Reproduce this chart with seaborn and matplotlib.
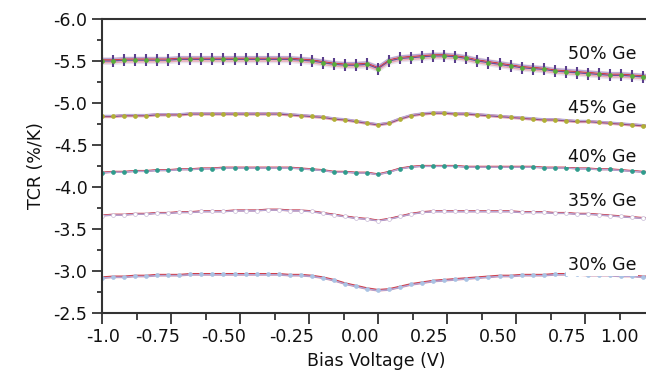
import matplotlib
matplotlib.use("Agg")
import matplotlib.pyplot as plt
import seaborn as sns
import numpy as np
from matplotlib.ticker import MultipleLocator

# bias voltage grid (V)
voltage = [-1.00, -0.96, -0.92, -0.88, -0.84, -0.80, -0.76, -0.72, -0.68, -0.64,
           -0.60, -0.56, -0.52, -0.48, -0.44, -0.40, -0.36, -0.32, -0.28, -0.24,
           -0.20, -0.16, -0.12, -0.08, -0.04, 0.00, 0.04, 0.08, 0.12, 0.16,
           0.20, 0.24, 0.28, 0.32, 0.36, 0.40, 0.44, 0.48, 0.52, 0.56,
           0.60, 0.64, 0.68, 0.72, 0.76, 0.80, 0.84, 0.88, 0.92, 0.96, 1.00]

# TCR (%/K) for each Ge content
tcr_50 = [-5.50, -5.50, -5.51, -5.51, -5.51, -5.51, -5.51, -5.52, -5.52, -5.52,
          -5.52, -5.52, -5.52, -5.52, -5.52, -5.52, -5.52, -5.52, -5.51, -5.50,
          -5.48, -5.46, -5.45, -5.45, -5.46, -5.41, -5.50, -5.53, -5.54, -5.55,
          -5.56, -5.56, -5.55, -5.53, -5.50, -5.48, -5.46, -5.44, -5.42, -5.41,
          -5.40, -5.38, -5.37, -5.36, -5.35, -5.34, -5.33, -5.33, -5.32, -5.31, -5.30]
tcr_45 = [-4.84, -4.84, -4.85, -4.85, -4.85, -4.86, -4.86, -4.86, -4.87, -4.87,
          -4.87, -4.87, -4.87, -4.87, -4.87, -4.87, -4.87, -4.86, -4.85, -4.84,
          -4.83, -4.81, -4.80, -4.78, -4.76, -4.74, -4.76, -4.81, -4.85, -4.87,
          -4.88, -4.88, -4.87, -4.87, -4.86, -4.85, -4.84, -4.83, -4.82, -4.81,
          -4.80, -4.80, -4.79, -4.78, -4.78, -4.77, -4.76, -4.75, -4.74, -4.73, -4.72]
tcr_40 = [-4.17, -4.18, -4.18, -4.19, -4.19, -4.20, -4.20, -4.21, -4.21, -4.22,
          -4.22, -4.23, -4.23, -4.23, -4.23, -4.23, -4.23, -4.23, -4.22, -4.21,
          -4.20, -4.18, -4.18, -4.17, -4.17, -4.15, -4.18, -4.22, -4.24, -4.25,
          -4.25, -4.25, -4.25, -4.24, -4.24, -4.24, -4.24, -4.24, -4.24, -4.24,
          -4.23, -4.23, -4.23, -4.22, -4.22, -4.21, -4.21, -4.20, -4.19, -4.18, -4.18]
tcr_35 = [-3.66, -3.67, -3.67, -3.68, -3.68, -3.69, -3.69, -3.70, -3.70, -3.71,
          -3.71, -3.71, -3.72, -3.72, -3.72, -3.73, -3.73, -3.72, -3.72, -3.71,
          -3.69, -3.67, -3.65, -3.63, -3.62, -3.60, -3.62, -3.65, -3.68, -3.70,
          -3.71, -3.71, -3.71, -3.71, -3.71, -3.71, -3.71, -3.71, -3.70, -3.70,
          -3.70, -3.69, -3.69, -3.68, -3.68, -3.67, -3.66, -3.65, -3.64, -3.63, -3.63]
tcr_30 = [-2.92, -2.93, -2.93, -2.94, -2.94, -2.95, -2.95, -2.95, -2.96, -2.96,
          -2.96, -2.96, -2.96, -2.96, -2.96, -2.96, -2.96, -2.95, -2.95, -2.94,
          -2.92, -2.89, -2.85, -2.82, -2.79, -2.77, -2.78, -2.81, -2.84, -2.86,
          -2.88, -2.89, -2.90, -2.91, -2.92, -2.93, -2.94, -2.94, -2.95, -2.95,
          -2.95, -2.96, -2.96, -2.96, -2.95, -2.95, -2.95, -2.94, -2.94, -2.93, -2.93]

groups = ["50% Ge", "45% Ge", "40% Ge", "35% Ge", "30% Ge"]
curves = [tcr_50, tcr_45, tcr_40, tcr_35, tcr_30]
# sample-to-sample scatter around each curve
spreads = [[0.02, 0.0, -0.015, -0.03],
           [0.012, 0.0, -0.008, -0.012],
           [0.005, 0.0, -0.005, 0.003],
           [0.005, 0.0, -0.005, 0.003],
           [0.008, 0.0, -0.008, 0.004]]
label_y = [-5.58, -4.94, -4.36, -3.83, -3.07]

# printed tick labels sit slightly left of the tick marks in the original
xtick_labels = ["-1.0", "-0.75", "-0.50", "-0.25", "0.00", "0.25", "0.50", "0.75", "1.00"]
xtick_label_pos = [-0.995, -0.80, -0.56, -0.315, -0.065, 0.185, 0.435, 0.685, 0.875]
ytick_vals = [-6.0, -5.5, -5.0, -4.5, -4.0, -3.5, -3.0, -2.5]

line_colors = ["#e8a6b0", "#6b4f9e", "#d0404a", "#b7a7d6"]
dot_colors = ["#58b03a", "#b0b035", "#2e9c8c", "#ffffff", "#a9c3e4"]
dot_edges = ["#58b03a", "#b0b035", "#2e9c8c", "#c9bcd8", "#a9c3e4"]

sns.set_theme(style="ticks")
plt.rcParams['font.family'] = ['DejaVu Sans']
plt.rcParams['axes.unicode_minus'] = False

fig = plt.figure(figsize=(6.46, 3.82), dpi=100)
ax = fig.add_axes([102 / 646, 69 / 382, 548 / 646, 294 / 382])

x = np.array(voltage)
for gi, (name, y) in enumerate(zip(groups, curves)):
    y = np.array(y)
    if gi == 0:
        ax.fill_between(x, y - 0.05, y + 0.04, color="#f3dada", alpha=0.6, lw=0)
        ax.fill_between(x, y, y + 0.04, color="#dcdcf3", alpha=0.5, lw=0)
    for off, col in zip(spreads[gi], line_colors):
        sns.lineplot(x=x, y=y + off, ax=ax, color=col, linewidth=1.0)
    if gi == 0:
        sns.lineplot(x=x, y=y, ax=ax, color="#5a3f8c", linewidth=0, marker="|",
                     markersize=8, markeredgewidth=1.5, markeredgecolor="#5a3f8c")
    sns.lineplot(x=x, y=y, ax=ax, color=dot_colors[gi], linewidth=0, marker="o",
                 markersize=2.8, markeredgewidth=0.5, markeredgecolor=dot_edges[gi])
    ax.text(0.935, label_y[gi], name, ha="right", va="center", fontsize=12.5,
            color="#111111", bbox=dict(facecolor="white", edgecolor="none", pad=1))

ax.set_xlim(-1.0, 0.985)
ax.set_ylim(-2.5, -6.0)
ax.xaxis.set_major_locator(MultipleLocator(0.25))
ax.xaxis.set_minor_locator(MultipleLocator(0.125))
ax.set_yticks(ytick_vals)
ax.set_yticklabels([f"{v:.1f}" for v in ytick_vals])
ax.yaxis.set_minor_locator(MultipleLocator(0.25))
ax.tick_params(axis="x", which="both", labelbottom=False)
ax.tick_params(axis="both", which="major", labelsize=12.5, colors="#222222",
               width=1.2, labelcolor="#111111")
ax.tick_params(axis="x", which="major", length=8)
ax.tick_params(axis="x", which="minor", length=5, width=1.2, colors="#222222")
ax.tick_params(axis="y", which="major", length=7)
ax.tick_params(axis="y", which="minor", length=3.5, width=1.2, colors="#222222")

sec = ax.secondary_xaxis("bottom")
sec.set_xticks(xtick_label_pos)
sec.set_xticklabels(xtick_labels)
sec.tick_params(length=0, pad=11, labelsize=12.5, labelcolor="#111111")
sec.spines["bottom"].set_visible(False)

for side in ["top", "bottom", "left"]:
    ax.spines[side].set_color("#333333")
    ax.spines[side].set_linewidth(1.5)
ax.spines["right"].set_visible(False)

sec.set_xlabel("Bias Voltage (V)", fontsize=12.5, color="#111111", labelpad=4)
ax.set_ylabel("TCR (%/K)", fontsize=12.5, color="#111111", labelpad=6)

fig.savefig("out.png", dpi=100)
